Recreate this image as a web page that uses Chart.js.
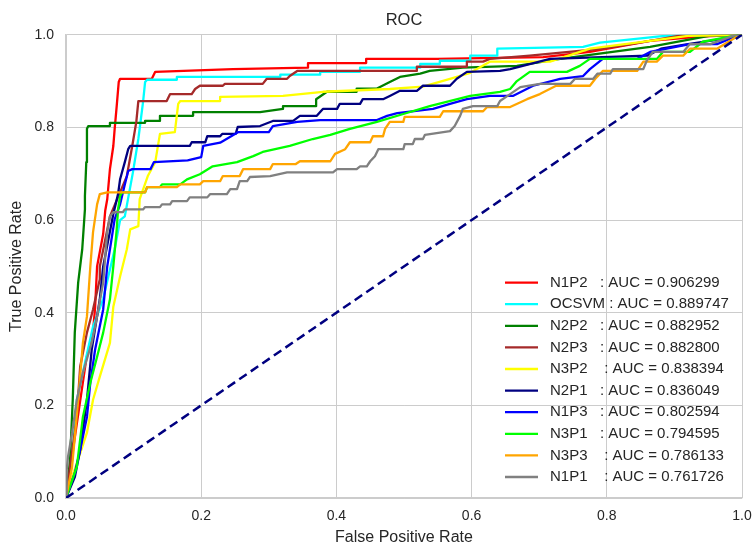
<!DOCTYPE html>
<html>
<head>
<meta charset="utf-8">
<title>ROC</title>
<script src="https://cdn.jsdelivr.net/npm/chart.js@4.4.1/dist/chart.umd.min.js"></script>
<style>
  html, body { margin: 0; padding: 0; background: #fff; }
  canvas { display: block; }
</style>
</head>
<body>
<canvas id="chart" width="754" height="545"></canvas>
<script>
// Model names, padded the way the legend prints them
const modelNames = ['N1P2   ', 'OCSVM ', 'N2P2   ', 'N2P3   ', 'N3P2    ',
  'N2P1   ', 'N1P3   ', 'N3P1   ', 'N3P3    ', 'N1P1    '];
const aucScores = [0.906299, 0.889747, 0.882952, 0.882800, 0.838394,
  0.836049, 0.802594, 0.794595, 0.786133, 0.761726];
const lineColors = ['#ff0000', '#00ffff', '#008000', '#a52a2a', '#ffff00',
  '#000080', '#0000ff', '#00ff00', '#ffa500', '#808080'];

// ROC points for each model: [false positive rate, true positive rate]
const n1p2 = [[0, 0], [0.006, 0.06], [0.012, 0.12], [0.02, 0.2], [0.03, 0.3], [0.04, 0.36],
  [0.043, 0.41], [0.046, 0.5], [0.055, 0.57], [0.058, 0.62], [0.061, 0.645], [0.065, 0.71],
  [0.07, 0.76], [0.072, 0.797], [0.075, 0.846], [0.078, 0.898], [0.08, 0.905], [0.127, 0.905],
  [0.132, 0.92], [0.247, 0.926], [0.358, 0.929], [0.358, 0.939], [0.444, 0.939], [0.444, 0.948],
  [0.549, 0.948], [0.706, 0.952], [0.775, 0.963], [0.864, 0.987], [0.938, 0.996], [1, 1]];

const ocsvm = [[0, 0], [0.009, 0.082], [0.016, 0.212], [0.04, 0.37], [0.055, 0.43], [0.072, 0.537],
  [0.08, 0.6], [0.087, 0.608], [0.099, 0.703], [0.107, 0.775], [0.114, 0.855], [0.117, 0.898],
  [0.12, 0.903], [0.164, 0.903], [0.164, 0.909], [0.317, 0.909], [0.317, 0.914], [0.376, 0.914],
  [0.376, 0.92], [0.435, 0.92], [0.435, 0.929], [0.524, 0.929], [0.524, 0.937], [0.553, 0.937],
  [0.553, 0.944], [0.598, 0.944], [0.598, 0.955], [0.638, 0.955], [0.638, 0.97], [0.765, 0.974],
  [0.79, 0.983], [0.889, 0.998], [1, 1]];

const n2p2 = [[0, 0], [0.006, 0.082], [0.01, 0.212], [0.013, 0.357], [0.018, 0.465], [0.024, 0.537],
  [0.028, 0.623], [0.028, 0.652], [0.03, 0.725], [0.031, 0.797], [0.033, 0.803], [0.065, 0.803],
  [0.065, 0.81], [0.117, 0.81], [0.117, 0.814], [0.139, 0.814], [0.139, 0.825], [0.188, 0.825],
  [0.188, 0.833], [0.287, 0.833], [0.321, 0.84], [0.321, 0.846], [0.37, 0.846], [0.37, 0.861],
  [0.386, 0.877], [0.43, 0.877], [0.43, 0.884], [0.46, 0.884], [0.479, 0.898], [0.494, 0.909],
  [0.524, 0.916], [0.538, 0.922], [0.587, 0.929], [0.667, 0.933], [0.731, 0.948], [0.864, 0.974],
  [0.953, 0.998], [1, 1]];

const n2p3 = [[0, 0], [0.006, 0.067], [0.016, 0.175], [0.021, 0.284], [0.031, 0.357], [0.04, 0.407],
  [0.05, 0.472], [0.05, 0.5], [0.065, 0.608], [0.09, 0.695], [0.098, 0.76], [0.104, 0.812],
  [0.107, 0.857], [0.149, 0.857], [0.154, 0.872], [0.186, 0.872], [0.191, 0.883], [0.198, 0.89],
  [0.232, 0.89], [0.235, 0.894], [0.291, 0.894], [0.297, 0.905], [0.327, 0.905], [0.331, 0.911],
  [0.342, 0.922], [0.519, 0.922], [0.519, 0.931], [0.593, 0.931], [0.593, 0.942], [0.617, 0.942],
  [0.627, 0.948], [0.686, 0.955], [0.794, 0.97], [0.864, 0.987], [0.908, 0.998], [1, 1]];

const n3p2 = [[0, 0], [0.006, 0.032], [0.021, 0.097], [0.031, 0.141], [0.04, 0.212], [0.05, 0.262],
  [0.065, 0.335], [0.07, 0.413], [0.08, 0.478], [0.09, 0.537], [0.095, 0.58], [0.107, 0.587],
  [0.109, 0.645], [0.121, 0.695], [0.132, 0.725], [0.139, 0.786], [0.161, 0.79], [0.166, 0.851],
  [0.169, 0.857], [0.228, 0.857], [0.228, 0.866], [0.321, 0.868], [0.38, 0.877], [0.479, 0.883],
  [0.528, 0.888], [0.568, 0.905], [0.598, 0.918], [0.627, 0.942], [0.716, 0.942], [0.775, 0.97],
  [0.864, 0.987], [0.923, 0.998], [1, 1]];

const n2p1 = [[0, 0], [0.013, 0.045], [0.021, 0.104], [0.031, 0.212], [0.038, 0.32], [0.05, 0.429],
  [0.055, 0.5], [0.07, 0.613], [0.077, 0.656], [0.08, 0.688], [0.087, 0.725], [0.092, 0.753],
  [0.095, 0.76], [0.183, 0.76], [0.186, 0.768], [0.206, 0.768], [0.209, 0.781], [0.228, 0.781],
  [0.231, 0.786], [0.251, 0.786], [0.254, 0.801], [0.287, 0.803], [0.306, 0.814], [0.336, 0.814],
  [0.346, 0.825], [0.371, 0.825], [0.38, 0.84], [0.401, 0.84], [0.405, 0.851], [0.435, 0.851],
  [0.439, 0.861], [0.469, 0.861], [0.479, 0.868], [0.494, 0.879], [0.519, 0.879], [0.528, 0.89],
  [0.568, 0.89], [0.578, 0.905], [0.593, 0.92], [0.642, 0.922], [0.657, 0.926], [0.716, 0.948],
  [0.86, 0.955], [0.88, 0.97], [0.92, 0.98], [0.972, 0.991], [1, 1]];

const n1p3 = [[0, 0], [0.013, 0.054], [0.021, 0.104], [0.031, 0.175], [0.036, 0.249], [0.043, 0.32],
  [0.055, 0.407], [0.061, 0.5], [0.065, 0.537], [0.072, 0.602], [0.08, 0.634], [0.087, 0.677],
  [0.092, 0.706], [0.098, 0.71], [0.125, 0.71], [0.13, 0.725], [0.18, 0.729], [0.2, 0.736],
  [0.203, 0.76], [0.228, 0.767], [0.255, 0.79], [0.3, 0.79], [0.306, 0.803], [0.342, 0.812],
  [0.376, 0.816], [0.46, 0.816], [0.475, 0.825], [0.49, 0.831], [0.543, 0.84], [0.568, 0.851],
  [0.593, 0.861], [0.627, 0.868], [0.661, 0.868], [0.691, 0.89], [0.731, 0.905], [0.765, 0.911],
  [0.775, 0.926], [0.794, 0.948], [0.845, 0.948], [0.864, 0.963], [0.923, 0.98], [0.963, 0.98],
  [0.993, 0.998], [1, 1]];

const n3p1 = [[0, 0], [0.016, 0.067], [0.025, 0.175], [0.036, 0.249], [0.046, 0.305], [0.055, 0.357],
  [0.065, 0.429], [0.07, 0.5], [0.075, 0.58], [0.077, 0.623], [0.08, 0.652], [0.083, 0.66],
  [0.117, 0.66], [0.12, 0.671], [0.139, 0.671], [0.142, 0.677], [0.169, 0.677], [0.179, 0.688],
  [0.198, 0.699], [0.217, 0.716], [0.253, 0.725], [0.277, 0.738], [0.291, 0.747], [0.331, 0.76],
  [0.365, 0.775], [0.391, 0.784], [0.42, 0.797], [0.46, 0.812], [0.499, 0.829], [0.538, 0.846],
  [0.598, 0.868], [0.642, 0.877], [0.657, 0.883], [0.667, 0.9], [0.686, 0.92], [0.741, 0.92],
  [0.76, 0.933], [0.775, 0.948], [0.874, 0.948], [0.883, 0.963], [0.923, 0.963], [0.942, 0.985],
  [0.997, 1], [1, 1]];

const n3p3 = [[0, 0], [0.009, 0.067], [0.018, 0.212], [0.025, 0.335], [0.031, 0.392], [0.036, 0.5],
  [0.04, 0.574], [0.046, 0.634], [0.05, 0.656], [0.061, 0.66], [0.117, 0.66], [0.12, 0.671],
  [0.164, 0.671], [0.169, 0.677], [0.198, 0.677], [0.203, 0.684], [0.228, 0.684], [0.232, 0.695],
  [0.257, 0.695], [0.262, 0.71], [0.302, 0.71], [0.306, 0.721], [0.34, 0.721], [0.346, 0.727],
  [0.391, 0.727], [0.398, 0.743], [0.413, 0.753], [0.42, 0.768], [0.45, 0.768], [0.454, 0.781],
  [0.469, 0.781], [0.472, 0.797], [0.479, 0.812], [0.499, 0.812], [0.501, 0.823], [0.553, 0.823],
  [0.558, 0.835], [0.617, 0.835], [0.623, 0.844], [0.657, 0.844], [0.682, 0.861], [0.701, 0.872],
  [0.725, 0.89], [0.775, 0.89], [0.783, 0.905], [0.794, 0.922], [0.845, 0.922], [0.854, 0.942],
  [0.874, 0.942], [0.883, 0.955], [0.913, 0.955], [0.923, 0.97], [0.963, 0.97], [0.997, 1], [1, 1]];

const n1p1 = [[0, 0], [0.001, 0.06], [0.003, 0.089], [0.009, 0.141], [0.016, 0.212], [0.025, 0.271],
  [0.038, 0.335], [0.046, 0.392], [0.055, 0.465], [0.061, 0.574], [0.065, 0.608], [0.07, 0.617],
  [0.084, 0.617], [0.087, 0.623], [0.114, 0.623], [0.117, 0.628], [0.139, 0.628], [0.142, 0.634],
  [0.154, 0.634], [0.157, 0.641], [0.179, 0.641], [0.183, 0.649], [0.209, 0.649], [0.213, 0.656],
  [0.238, 0.656], [0.243, 0.667], [0.253, 0.667], [0.257, 0.684], [0.268, 0.684], [0.272, 0.693],
  [0.302, 0.695], [0.327, 0.703], [0.395, 0.703], [0.401, 0.71], [0.43, 0.71], [0.435, 0.716],
  [0.445, 0.716], [0.45, 0.727], [0.457, 0.738], [0.462, 0.753], [0.499, 0.753], [0.501, 0.764],
  [0.513, 0.764], [0.516, 0.775], [0.528, 0.775], [0.531, 0.784], [0.568, 0.792], [0.575, 0.803],
  [0.583, 0.825], [0.587, 0.84], [0.602, 0.846], [0.638, 0.846], [0.642, 0.857], [0.657, 0.872],
  [0.672, 0.887], [0.701, 0.894], [0.746, 0.894], [0.753, 0.905], [0.78, 0.905], [0.786, 0.916],
  [0.805, 0.916], [0.809, 0.926], [0.854, 0.926], [0.859, 0.944], [0.868, 0.963], [0.913, 0.963],
  [0.923, 0.98], [0.953, 0.98], [0.991, 1], [1, 1]];

const rocCurves = [n1p2, ocsvm, n2p2, n2p3, n3p2, n2p1, n1p3, n3p1, n3p3, n1p1];

// chance line
const chanceLine = [[0, 0], [1, 1]];

const fontFamily = '"Liberation Sans", Arial, Helvetica, sans-serif';
const textColor = '#262626';
const gridColor = '#cccccc';

Chart.defaults.font.family = fontFamily;
Chart.defaults.color = textColor;

const toPoints = (pairs) => pairs.map(([x, y]) => ({ x, y }));

const datasets = rocCurves.map((curve, i) => ({
  label: modelNames[i] + ': AUC = ' + aucScores[i].toFixed(6),
  data: toPoints(curve),
  showLine: true,
  borderColor: lineColors[i],
  backgroundColor: lineColors[i],
  borderWidth: 2.3,
  borderJoinStyle: 'round',
  pointRadius: 0,
  tension: 0,
  // later curves sit on top of earlier ones
  order: rocCurves.length - i,
}));

datasets.push({
  label: '',
  data: toPoints(chanceLine),
  showLine: true,
  borderColor: '#000080',
  borderWidth: 2.5,
  borderDash: [9, 5],
  pointRadius: 0,
  order: 0,
});

// legend drawn inside the plot, bottom right, no frame
const cornerLegend = {
  id: 'cornerLegend',
  afterDatasetsDraw(chart) {
    const { ctx, chartArea } = chart;
    const items = chart.data.datasets.filter((ds) => ds.label);
    const rowHeight = 21.6;
    ctx.save();
    ctx.font = '15px ' + fontFamily;
    ctx.textBaseline = 'middle';
    ctx.textAlign = 'left';
    items.forEach((ds, i) => {
      const y = chartArea.bottom - 21 - (items.length - 1 - i) * rowHeight;
      ctx.strokeStyle = ds.borderColor;
      ctx.lineWidth = ds.borderWidth;
      ctx.beginPath();
      ctx.moveTo(chartArea.right - 237, y);
      ctx.lineTo(chartArea.right - 204, y);
      ctx.stroke();
      ctx.fillStyle = textColor;
      ctx.fillText(ds.label, chartArea.right - 192, y);
    });
    ctx.restore();
  },
};

const tickLabel = (v) => Number(v).toFixed(1);

new Chart(document.getElementById('chart').getContext('2d'), {
  type: 'scatter',
  data: { datasets },
  options: {
    responsive: false,
    animation: false,
    layout: { padding: { left: 0, right: 12, top: 0, bottom: 0 } },
    plugins: {
      legend: { display: false },
      tooltip: { enabled: false },
      title: {
        display: true,
        fullSize: false,
        text: 'ROC',
        color: textColor,
        font: { size: 16.5, weight: 'normal' },
        padding: { top: 11, bottom: 4 },
      },
    },
    scales: {
      x: {
        type: 'linear',
        min: 0,
        max: 1,
        ticks: { stepSize: 0.2, callback: tickLabel, color: textColor, font: { size: 14 }, padding: 10 },
        grid: { color: gridColor, lineWidth: 1, drawTicks: false },
        border: { color: gridColor, width: 1.2 },
        title: {
          display: true,
          text: 'False Positive Rate',
          color: textColor,
          font: { size: 16, lineHeight: 0.9 },
          padding: 0,
        },
        afterFit(scale) {
          scale.height = 47;
          // the end labels may hang past the plot edges
          scale.paddingLeft = 0;
          scale.paddingRight = 0;
        },
      },
      y: {
        type: 'linear',
        min: 0,
        max: 1,
        ticks: { stepSize: 0.2, callback: tickLabel, color: textColor, font: { size: 14 }, padding: 12 },
        grid: { color: gridColor, lineWidth: 1, drawTicks: false },
        border: { color: gridColor, width: 1.2 },
        title: {
          display: true,
          text: 'True Positive Rate',
          color: textColor,
          font: { size: 16 },
          padding: { top: 7, bottom: 0 },
        },
        afterFit(scale) { scale.width = 66; },
      },
    },
  },
  plugins: [cornerLegend],
});
</script>
</body>
</html>
